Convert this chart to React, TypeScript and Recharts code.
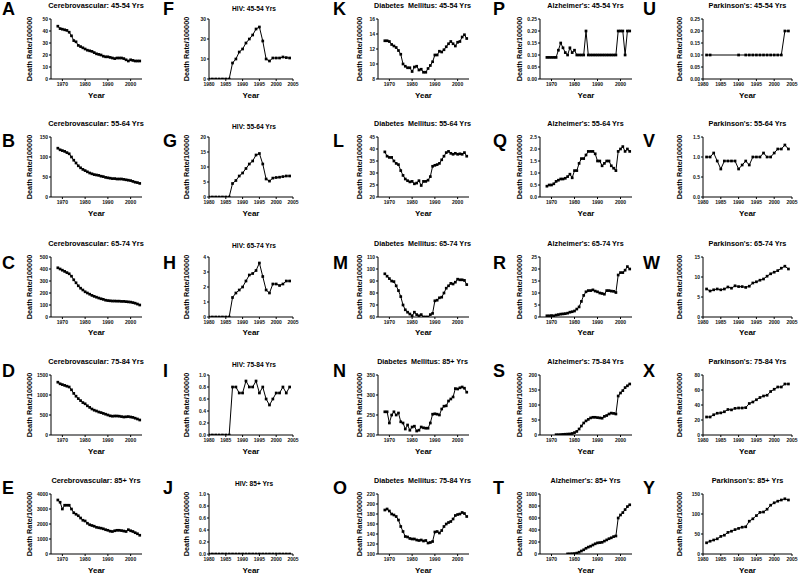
import React from 'react';
import { LineChart, Line, XAxis, YAxis } from 'recharts';

const FONT = "'Liberation Sans', Arial, Helvetica, sans-serif";

// ---------- categories (years) ----------
const YEARS_1968_2004 = [1968, 1969, 1970, 1971, 1972, 1973, 1974, 1975, 1976, 1977, 1978, 1979, 1980, 1981, 1982, 1983, 1984, 1985, 1986, 1987, 1988, 1989, 1990, 1991, 1992, 1993, 1994, 1995, 1996, 1997, 1998, 1999, 2000, 2001, 2002, 2003, 2004];
const YEARS_1980_2004 = [1980, 1981, 1982, 1983, 1984, 1985, 1986, 1987, 1988, 1989, 1990, 1991, 1992, 1993, 1994, 1995, 1996, 1997, 1998, 1999, 2000, 2001, 2002, 2003, 2004];
const YEARS_1981_2004 = [1981, 1982, 1983, 1984, 1985, 1986, 1987, 1988, 1989, 1990, 1991, 1992, 1993, 1994, 1995, 1996, 1997, 1998, 1999, 2000, 2001, 2002, 2003, 2004];
const YEARS_1972_2004 = [1972, 1973, 1974, 1975, 1976, 1977, 1978, 1979, 1980, 1981, 1982, 1983, 1984, 1985, 1986, 1987, 1988, 1989, 1990, 1991, 1992, 1993, 1994, 1995, 1996, 1997, 1998, 1999, 2000, 2001, 2002, 2003, 2004];
const YEARS_1977_2004 = [1977, 1978, 1979, 1980, 1981, 1982, 1983, 1984, 1985, 1986, 1987, 1988, 1989, 1990, 1991, 1992, 1993, 1994, 1995, 1996, 1997, 1998, 1999, 2000, 2001, 2002, 2003, 2004];
const YEARS_PARK_45_54 = [1981, 1982, 1990, 1992, 1993, 1994, 1995, 1996, 1997, 1998, 1999, 2000, 2001, 2002, 2003, 2004];

const X_TICKS_LONG = [1970, 1980, 1990, 2000];
const X_TICKS_SHORT = [1980, 1985, 1990, 1995, 2000, 2005];

// ---------- series values ----------
const CEREBRO_45_54 = [44, 42, 41.5, 41, 40.5, 39, 36, 32, 31, 28, 27, 26, 25, 24, 23.5, 23, 22, 21, 20.5, 20, 19, 18.5, 18.5, 18, 17.5, 17, 17.5, 17.5, 17.5, 17, 16, 15, 16, 15.5, 15, 15, 15];
const CEREBRO_55_64 = [122, 118, 116, 114, 111, 108, 100, 92, 85, 78, 73, 69, 66, 63, 60, 58, 56, 55, 54, 52, 51, 49, 48, 47, 46, 46, 45, 45, 45, 44, 43, 42, 41, 39, 37, 36, 34];
const CEREBRO_65_74 = [410, 400, 390, 380, 370, 360, 340, 310, 285, 260, 240, 225, 210, 200, 190, 180, 172, 165, 158, 152, 147, 140, 137, 135, 133, 133, 132, 132, 130, 130, 128, 126, 124, 120, 115, 108, 100];
const CEREBRO_75_84 = [1320, 1280, 1260, 1240, 1220, 1200, 1130, 1040, 970, 910, 860, 810, 780, 730, 690, 650, 620, 600, 575, 560, 540, 520, 500, 480, 470, 475, 475, 470, 460, 450, 455, 460, 450, 440, 420, 400, 375];
const CEREBRO_85 = [3600, 3450, 3000, 3250, 3250, 3250, 3000, 2750, 2650, 2550, 2400, 2250, 2200, 2050, 1950, 1900, 1850, 1780, 1750, 1720, 1680, 1620, 1580, 1520, 1500, 1550, 1580, 1580, 1560, 1530, 1500, 1620, 1550, 1500, 1420, 1350, 1250];

const HIV_45_54 = [0, 0, 0, 0, 0, 0, 0, 8, 10, 13.5, 15, 18, 20, 22, 25, 26, 19, 10, 9, 10.5, 10.5, 10.5, 11, 10.7, 10.5];
const HIV_55_64 = [0, 0, 0, 0, 0, 0, 0, 4.5, 5.5, 7, 8, 9.5, 11, 12, 14, 14.5, 11, 6, 5.3, 6.3, 6.5, 6.6, 6.8, 7, 7];
const HIV_65_74 = [0, 0, 0, 0, 0, 0, 0, 1.3, 1.6, 1.8, 2.0, 2.4, 2.8, 2.9, 3.1, 3.6, 2.7, 1.8, 1.6, 2.2, 2.2, 2.1, 2.2, 2.4, 2.4];
const HIV_75_84 = [0, 0, 0, 0, 0, 0, 0, 0.8, 0.8, 0.7, 0.7, 0.9, 0.8, 0.8, 0.9, 0.7, 0.8, 0.6, 0.5, 0.6, 0.7, 0.7, 0.8, 0.7, 0.8];
const HIV_85 = [0, 0, 0, 0, 0, 0, 0, 0, 0, 0, 0, 0, 0, 0, 0, 0, 0, 0, 0, 0, 0, 0, 0, 0, 0];

const DIAB_45_54 = [13.1, 13.1, 13.0, 12.6, 12.4, 12.2, 11.8, 11.3, 10.0, 9.7, 9.5, 9.5, 9.0, 9.6, 9.7, 9.2, 9.3, 8.9, 8.9, 9.4, 9.8, 10.3, 11.2, 11.2, 11.7, 11.6, 11.9, 12.3, 12.7, 13.0, 12.7, 12.4, 12.9, 13.0, 13.6, 13.9, 13.4];
const DIAB_55_64 = [38.8, 37, 36.5, 36.5, 35, 34, 33.5, 31, 29, 27.5, 26.8, 26.3, 26.5, 25.5, 25.8, 26.8, 24.8, 26.5, 26.5, 27, 28.5, 32.8, 33.2, 33.5, 34, 35.5, 37, 38.5, 39, 38.2, 37.8, 38.2, 37.8, 38, 37.8, 38.5, 37];
const DIAB_65_74 = [96, 94, 92, 90, 89.5, 86, 82, 77, 70, 66, 64, 62.5, 61, 64, 62, 61, 62, 60, 60, 60, 62, 63, 73.5, 74, 76, 76.5, 80, 84, 86, 88, 87.5, 89, 91.5, 91, 91, 90.5, 87];
const DIAB_85 = [258, 258, 230, 250, 258, 250, 255, 233, 230, 215, 225, 212, 220, 222, 210, 212, 220, 218, 217, 217, 230, 252, 253, 252, 250, 265, 272, 273, 285, 290, 295, 316, 315, 318, 320, 317, 307];
const DIAB_75_84 = [188, 190, 186, 180, 178, 175, 168, 155, 145, 135, 134, 131, 130, 130, 128, 127, 128, 126, 127, 122, 123, 125, 144, 145, 142, 147, 155, 160, 163, 165, 170, 177, 179, 180, 183, 181, 175];

const ALZ_45_54 = [0.09, 0.09, 0.09, 0.09, 0.09, 0.12, 0.15, 0.13, 0.11, 0.10, 0.13, 0.11, 0.12, 0.10, 0.10, 0.10, 0.10, 0.20, 0.10, 0.10, 0.10, 0.10, 0.10, 0.10, 0.10, 0.10, 0.10, 0.10, 0.10, 0.10, 0.10, 0.20, 0.20, 0.20, 0.10, 0.20, 0.20];
const ALZ_55_64 = [0.45, 0.5, 0.5, 0.55, 0.65, 0.7, 0.75, 0.75, 0.78, 0.85, 0.95, 0.8, 1.1, 1.1, 1.4, 1.6, 1.6, 1.75, 1.9, 1.9, 1.9, 1.8, 1.5, 1.5, 1.3, 1.4, 1.5, 1.5, 1.3, 1.2, 1.1, 1.9, 2.0, 2.1, 1.9, 2.0, 1.9];
const ALZ_65_74 = [0.5, 0.5, 0.6, 0.5, 0.8, 1.0, 1.2, 1.3, 1.4, 1.6, 2.0, 2.2, 2.5, 3.3, 4.2, 6.5, 9, 10.5, 11, 11, 11.3, 10.8, 10.5, 10, 9.8, 9.5, 11, 11, 10.8, 10.7, 10.2, 17.5, 18.5, 18.5, 19.5, 21, 20];
const ALZ_75_84 = [1, 1, 1.5, 2, 2.5, 3, 3.5, 5, 8, 12, 20, 30, 40, 47, 52, 57, 59, 59, 58, 57, 56, 62, 65, 70, 73, 72, 70, 130, 140, 148, 158, 164, 170];
const ALZ_85 = [2, 3, 5, 8, 15, 30, 50, 70, 95, 115, 130, 150, 170, 185, 190, 195, 215, 235, 255, 270, 290, 300, 600, 650, 690, 740, 790, 820];

const PARK_45_54 = [0.1, 0.1, 0.1, 0.1, 0.1, 0.1, 0.1, 0.1, 0.1, 0.1, 0.1, 0.1, 0.1, 0.1, 0.2, 0.2];
const PARK_55_64 = [1.0, 1.0, 1.1, 0.9, 0.7, 0.9, 0.9, 0.9, 0.9, 0.7, 0.8, 0.9, 0.8, 1.0, 1.0, 1.0, 1.1, 1.0, 1.0, 1.1, 1.2, 1.2, 1.3, 1.2];
const PARK_65_74 = [7.0, 6.5, 6.8, 7.0, 6.8, 7.0, 7.5, 7.2, 7.8, 7.6, 7.6, 7.4, 7.7, 8.5, 8.8, 9.2, 9.5, 10.2, 10.8, 11.2, 11.6, 12.2, 12.7, 12.0];
const PARK_75_84 = [24, 24, 27, 29, 29.5, 31, 34, 33.5, 35.5, 36, 36, 36.5, 42, 44, 47, 50, 52, 53, 58, 61, 64, 64, 68, 68];
const PARK_85 = [28, 32, 35, 38, 44, 47, 54, 57, 61, 64, 67, 68, 82, 88, 96, 104, 105, 112, 122, 128, 132, 135, 138, 135];

// ---------- layout ----------
const COLS = [
  { x0: 0, plotL: 51, plotR: 142, xDomain: [1965, 2005], xTicks: X_TICKS_LONG, yLabelX: 29.5, titleSize: 7.4, titleX: 96, titleY: 6, letterX: 2 },
  { x0: 160, plotL: 49, plotR: 133, xDomain: [1980, 2005], xTicks: X_TICKS_SHORT, yLabelX: 26.5, titleSize: 6.6, titleX: 94, titleY: 8.5, letterX: 163 },
  { x0: 320, plotL: 58, plotR: 149, xDomain: [1965, 2005], xTicks: X_TICKS_LONG, yLabelX: 40, titleSize: 7.2, titleX: 102.5, titleY: 6, letterX: 333 },
  { x0: 480, plotL: 60, plotR: 152, xDomain: [1965, 2005], xTicks: X_TICKS_LONG, yLabelX: 40, titleSize: 7.2, titleX: 105.5, titleY: 6, letterX: 493 },
  { x0: 640, plotL: 63, plotR: 152, xDomain: [1980, 2005], xTicks: X_TICKS_SHORT, yLabelX: 40, titleSize: 7.3, titleX: 107.5, titleY: 6, letterX: 643 },
];
const ROW_Y = [0, 118, 237.5, 356, 475];
const LETTER_Y = [8.5, 141, 263, 371, 488];
const PLOT_TOP = 19;
const PLOT_BOTTOM = 79;
const CHART_H = 100;

type Panel = {
  letter: string; title: string; col: number; row: number;
  years: number[]; values: number[]; yTicks: number[]; dec: number;
};

const PANELS: Panel[] = [
  { letter: 'A', title: 'Cerebrovascular: 45-54 Yrs', col: 0, row: 0, years: YEARS_1968_2004, values: CEREBRO_45_54, yTicks: [0, 10, 20, 30, 40, 50], dec: 0 },
  { letter: 'B', title: 'Cerebrovascular: 55-64 Yrs', col: 0, row: 1, years: YEARS_1968_2004, values: CEREBRO_55_64, yTicks: [0, 50, 100, 150], dec: 0 },
  { letter: 'C', title: 'Cerebrovascular: 65-74 Yrs', col: 0, row: 2, years: YEARS_1968_2004, values: CEREBRO_65_74, yTicks: [0, 100, 200, 300, 400, 500], dec: 0 },
  { letter: 'D', title: 'Cerebrovascular: 75-84 Yrs', col: 0, row: 3, years: YEARS_1968_2004, values: CEREBRO_75_84, yTicks: [0, 500, 1000, 1500], dec: 0 },
  { letter: 'E', title: 'Cerebrovascular: 85+ Yrs', col: 0, row: 4, years: YEARS_1968_2004, values: CEREBRO_85, yTicks: [0, 1000, 2000, 3000, 4000], dec: 0 },

  { letter: 'F', title: 'HIV: 45-54 Yrs', col: 1, row: 0, years: YEARS_1980_2004, values: HIV_45_54, yTicks: [0, 10, 20, 30], dec: 0 },
  { letter: 'G', title: 'HIV: 55-64 Yrs', col: 1, row: 1, years: YEARS_1980_2004, values: HIV_55_64, yTicks: [0, 5, 10, 15, 20], dec: 0 },
  { letter: 'H', title: 'HIV: 65-74 Yrs', col: 1, row: 2, years: YEARS_1980_2004, values: HIV_65_74, yTicks: [0, 1, 2, 3, 4], dec: 0 },
  { letter: 'I', title: 'HIV: 75-84 Yrs', col: 1, row: 3, years: YEARS_1980_2004, values: HIV_75_84, yTicks: [0, 0.2, 0.4, 0.6, 0.8, 1.0], dec: 1 },
  { letter: 'J', title: 'HIV: 85+ Yrs', col: 1, row: 4, years: YEARS_1980_2004, values: HIV_85, yTicks: [0, 0.2, 0.4, 0.6, 0.8, 1.0], dec: 1 },

  { letter: 'K', title: 'Diabetes\u00a0 Mellitus: 45-54 Yrs', col: 2, row: 0, years: YEARS_1968_2004, values: DIAB_45_54, yTicks: [8, 10, 12, 14, 16], dec: 0 },
  { letter: 'L', title: 'Diabetes\u00a0 Mellitus: 55-64 Yrs', col: 2, row: 1, years: YEARS_1968_2004, values: DIAB_55_64, yTicks: [20, 25, 30, 35, 40, 45], dec: 0 },
  { letter: 'M', title: 'Diabetes\u00a0 Mellitus: 65-74 Yrs', col: 2, row: 2, years: YEARS_1968_2004, values: DIAB_65_74, yTicks: [60, 70, 80, 90, 100, 110], dec: 0 },
  { letter: 'N', title: 'Diabetes\u00a0 Mellitus: 85+ Yrs', col: 2, row: 3, years: YEARS_1968_2004, values: DIAB_85, yTicks: [200, 250, 300, 350], dec: 0 },
  { letter: 'O', title: 'Diabetes\u00a0 Mellitus: 75-84 Yrs', col: 2, row: 4, years: YEARS_1968_2004, values: DIAB_75_84, yTicks: [100, 120, 140, 160, 180, 200, 220], dec: 0 },

  { letter: 'P', title: "Alzheimer's: 45-54 Yrs", col: 3, row: 0, years: YEARS_1968_2004, values: ALZ_45_54, yTicks: [0, 0.05, 0.1, 0.15, 0.2, 0.25], dec: 2 },
  { letter: 'Q', title: "Alzheimer's: 55-64 Yrs", col: 3, row: 1, years: YEARS_1968_2004, values: ALZ_55_64, yTicks: [0, 0.5, 1.0, 1.5, 2.0, 2.5], dec: 1 },
  { letter: 'R', title: "Alzheimer's: 65-74 Yrs", col: 3, row: 2, years: YEARS_1968_2004, values: ALZ_65_74, yTicks: [0, 5, 10, 15, 20, 25], dec: 0 },
  { letter: 'S', title: "Alzheimer's: 75-84 Yrs", col: 3, row: 3, years: YEARS_1972_2004, values: ALZ_75_84, yTicks: [0, 50, 100, 150, 200], dec: 0 },
  { letter: 'T', title: "Alzheimer's: 85+ Yrs", col: 3, row: 4, years: YEARS_1977_2004, values: ALZ_85, yTicks: [0, 200, 400, 600, 800, 1000], dec: 0 },

  { letter: 'U', title: "Parkinson's: 45-54 Yrs", col: 4, row: 0, years: YEARS_PARK_45_54, values: PARK_45_54, yTicks: [0, 0.05, 0.1, 0.15, 0.2, 0.25], dec: 2 },
  { letter: 'V', title: "Parkinson's: 55-64 Yrs", col: 4, row: 1, years: YEARS_1981_2004, values: PARK_55_64, yTicks: [0, 0.5, 1.0, 1.5], dec: 1 },
  { letter: 'W', title: "Parkinson's: 65-74 Yrs", col: 4, row: 2, years: YEARS_1981_2004, values: PARK_65_74, yTicks: [0, 5, 10, 15], dec: 0 },
  { letter: 'X', title: "Parkinson's: 75-84 Yrs", col: 4, row: 3, years: YEARS_1981_2004, values: PARK_75_84, yTicks: [0, 20, 40, 60, 80], dec: 0 },
  { letter: 'Y', title: "Parkinson's: 85+ Yrs", col: 4, row: 4, years: YEARS_1981_2004, values: PARK_85, yTicks: [0, 50, 100, 150], dec: 0 },
];

const SquareDot = (props: any) => {
  const { cx, cy, index } = props;
  if (cx == null || cy == null) return <g key={`n${index}`} />;
  return <rect key={`d${index}`} x={cx - 1.35} y={cy - 1.35} width={2.7} height={2.7} fill="#000" />;
};

const tickStyle = { fontSize: 5, fontWeight: 'bold' as const, fill: '#111', fontFamily: FONT };

const textBase: React.CSSProperties = {
  position: 'absolute',
  fontFamily: FONT,
  fontWeight: 'bold',
  color: '#000',
  whiteSpace: 'pre',
  lineHeight: 1,
  transform: 'translate(-50%, -50%)',
};

function PanelChart({ p }: { p: Panel }) {
  const c = COLS[p.col];
  const ry = ROW_Y[p.row];
  const data = p.years.map((y, i) => ({ year: y, v: p.values[i] }));
  const yMin = p.yTicks[0];
  const yMax = p.yTicks[p.yTicks.length - 1];
  const plotCx = c.x0 + (c.plotL + c.plotR) / 2;
  return (
    <>
      <div style={{ position: 'absolute', left: c.x0, top: ry, width: 160, height: CHART_H }}>
        <LineChart
          width={160}
          height={CHART_H}
          data={data}
          margin={{ top: PLOT_TOP, right: 160 - c.plotR, bottom: 0, left: 0 }}
        >
          <XAxis
            dataKey="year"
            type="number"
            domain={c.xDomain as [number, number]}
            ticks={c.xTicks}
            allowDataOverflow
            interval={0}
            height={CHART_H - PLOT_BOTTOM}
            tickSize={2}
            tickMargin={1}
            axisLine={{ stroke: '#000', strokeWidth: 1 }}
            tickLine={{ stroke: '#000', strokeWidth: 1 }}
            tick={tickStyle}
          />
          <YAxis
            type="number"
            domain={[yMin, yMax]}
            ticks={p.yTicks}
            allowDataOverflow
            interval={0}
            width={c.plotL}
            tickSize={2}
            tickMargin={1}
            axisLine={{ stroke: '#000', strokeWidth: 1 }}
            tickLine={{ stroke: '#000', strokeWidth: 1 }}
            tick={tickStyle}
            tickFormatter={(v: number) => v.toFixed(p.dec)}
          />
          <Line
            type="linear"
            dataKey="v"
            stroke="#000"
            strokeWidth={1}
            dot={SquareDot}
            activeDot={false}
            isAnimationActive={false}
          />
        </LineChart>
      </div>
      <div style={{ ...textBase, left: c.x0 + c.titleX, top: ry + c.titleY, fontSize: c.titleSize }}>{p.title}</div>
      <div style={{ ...textBase, left: c.letterX, top: LETTER_Y[p.row], fontSize: 18, transform: 'translate(0, -50%)' }}>{p.letter}</div>
      <div style={{ ...textBase, left: c.x0 + c.yLabelX, top: ry + (PLOT_TOP + PLOT_BOTTOM) / 2, fontSize: 7.3, transform: 'translate(-50%, -50%) rotate(-90deg)' }}>Death Rate/100000</div>
      <div style={{ ...textBase, left: plotCx, top: ry + 95.5, fontSize: 8 }}>Year</div>
    </>
  );
}

export default function App() {
  return (
    <div style={{ position: 'absolute', left: 0, top: 0, width: 800, height: 574, background: '#fff', overflow: 'hidden' }}>
      {PANELS.map((p) => (
        <PanelChart key={p.letter} p={p} />
      ))}
    </div>
  );
}
